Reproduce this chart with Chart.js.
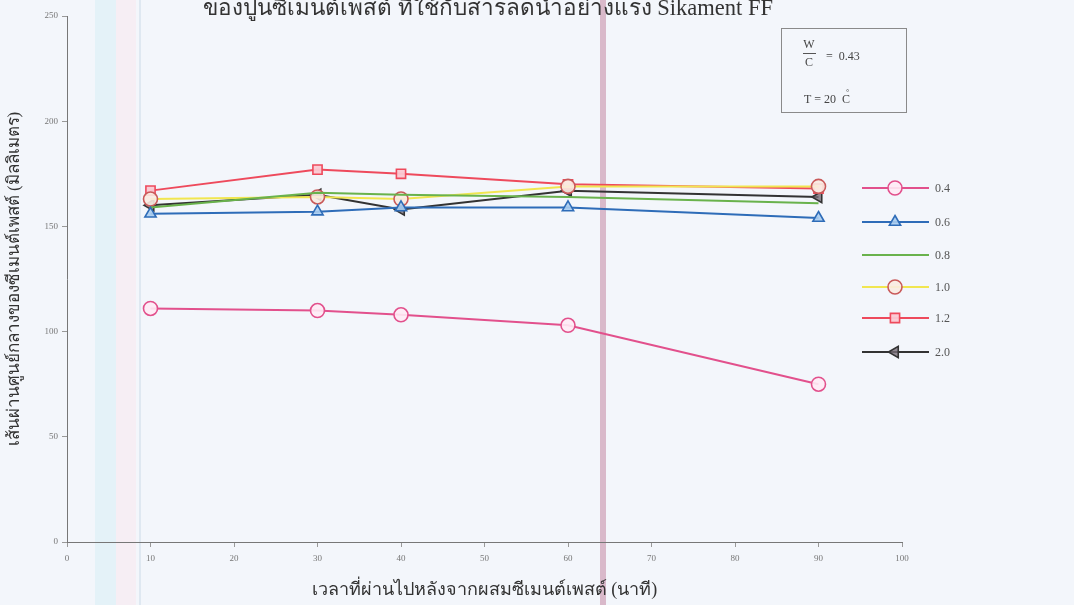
<!DOCTYPE html>
<html>
<head>
<meta charset="utf-8">
<script src="https://cdn.jsdelivr.net/npm/chart.js@4/dist/chart.umd.min.js"></script>
<style>
  html, body { margin: 0; padding: 0; width: 1074px; height: 605px; overflow: hidden; }
  body {
    background:
      linear-gradient(to right,
        transparent 0, transparent 95px,
        #e4f2f8 95px, #e4f2f8 116px,
        #f6eef4 116px, #f6eef4 136px,
        transparent 136px, transparent 139px,
        #dfe8f1 139px, #dfe8f1 141px,
        transparent 141px, transparent 600px,
        #d9b9ca 600px, #d9b9ca 606px,
        transparent 606px),
      #f3f6fb;
  }
  #wrap { position: absolute; left: 0; top: 0; width: 1074px; height: 605px; }
</style>
</head>
<body>
<div id="wrap"><canvas id="c" width="1074" height="605"></canvas></div>
<script>
// elapsed time after mixing (minutes)
const minutes = [10, 30, 40, 60, 90];

// paste spread diameter (mm) per superplasticizer dosage
const s04 = [111, 110, 108, 103, 75];
const s06 = [156, 157, 159, 159, 154];
const s08 = [159, 166, 165, 164, 161];
const s10 = [163, 164, 163, 169, 169];
const s12 = [167, 177, 175, 170, 168];
const s20 = [160, 165, 158, 167, 164];

const seriesLabels = ['0.4', '0.6', '0.8', '1.0', '1.2', '2.0'];
const xTicks = [0, 10, 20, 30, 40, 50, 60, 70, 80, 90, 100];
const yTicks = [0, 50, 100, 150, 200, 250];

const titleText = 'ของปูนซีเมนต์เพสต์ ที่ใช้กับสารลดน้ำอย่างแรง Sikament FF';
const xTitle = 'เวลาที่ผ่านไปหลังจากผสมซีเมนต์เพสต์ (นาที)';
const yTitle = 'เส้นผ่านศูนย์กลางของซีเมนต์เพสต์ (มิลลิเมตร)';

const SERIF = '"Liberation Serif", "DejaVu Serif", serif';

function pts(arr) { return minutes.map((m, i) => ({ x: m, y: arr[i] })); }

const styles = [
  { data: s04, color: '#e2508c', fill: 'rgba(255,235,245,0.9)', point: 'circle', r: 7, rot: 0 },
  { data: s06, color: '#2e6cb8', fill: 'rgba(170,205,240,0.9)', point: 'triangle', r: 6.5, rot: 0 },
  { data: s08, color: '#69b24c', fill: '#69b24c', point: false, r: 0, rot: 0 },
  { data: s10, color: '#f1e650', fill: 'rgba(250,235,225,0.9)', point: 'circle', r: 7, rot: 0, pcolor: '#c95a5a' },
  { data: s12, color: '#ee4a5c', fill: 'rgba(250,200,210,0.95)', point: 'rect', r: 6.5, rot: 0 },
  { data: s20, color: '#333333', fill: 'rgba(120,110,120,0.8)', point: 'triangle', r: 6.5, rot: -90 }
];

const datasets = styles.map((s, i) => ({
  label: seriesLabels[i],
  data: pts(s.data),
  borderColor: s.color,
  backgroundColor: s.fill,
  borderWidth: 2,
  pointStyle: s.point,
  pointRadius: s.r,
  pointRotation: s.rot,
  pointBorderColor: s.pcolor || s.color,
  pointBackgroundColor: s.fill,
  pointBorderWidth: 1.6,
  tension: 0
}));

// title, W/C note box and line-with-marker legend
const decorations = {
  id: 'decorations',
  afterDraw(chart) {
    const ctx = chart.ctx;
    ctx.save();
    ctx.fillStyle = '#333';
    ctx.font = '22.5px ' + SERIF;
    ctx.textAlign = 'center';
    ctx.textBaseline = 'alphabetic';
    ctx.fillText(titleText, 488, 15);

    // note box
    ctx.strokeStyle = '#8a8a8a';
    ctx.lineWidth = 1;
    ctx.strokeRect(781.5, 28.5, 125, 84);
    ctx.fillStyle = '#444';
    ctx.font = '12px ' + SERIF;
    ctx.textAlign = 'center';
    ctx.fillText('W', 809, 48);
    ctx.fillText('C', 809, 66);
    ctx.beginPath();
    ctx.moveTo(803, 53.5); ctx.lineTo(816, 53.5);
    ctx.strokeStyle = '#555';
    ctx.stroke();
    ctx.textAlign = 'left';
    ctx.fillText('=  0.43', 826, 60);
    ctx.fillText('T = 20  C', 804, 103);
    ctx.font = '8px ' + SERIF;
    ctx.fillText('°', 846, 95);

    // legend
    const rows = [188, 222, 255, 287, 318, 352];
    chart.data.datasets.forEach((ds, i) => {
      const y = rows[i];
      ctx.strokeStyle = ds.borderColor;
      ctx.lineWidth = 2;
      ctx.beginPath();
      ctx.moveTo(862, y); ctx.lineTo(929, y);
      ctx.stroke();
      if (ds.pointStyle) {
        ctx.strokeStyle = ds.pointBorderColor;
        ctx.fillStyle = ds.pointBackgroundColor;
        ctx.lineWidth = ds.pointBorderWidth;
        Chart.helpers.drawPoint(ctx, {
          pointStyle: ds.pointStyle, radius: ds.pointRadius,
          rotation: ds.pointRotation, borderWidth: ds.pointBorderWidth
        }, 895, y);
      }
      ctx.fillStyle = '#555';
      ctx.font = '12px ' + SERIF;
      ctx.textAlign = 'left';
      ctx.textBaseline = 'middle';
      ctx.fillText(ds.label, 935, y + 1);
    });
    ctx.restore();
  }
};

new Chart(document.getElementById('c'), {
  type: 'line',
  data: { datasets },
  plugins: [decorations],
  options: {
    responsive: false,
    animation: false,
    layout: { padding: { top: 16, right: 172, left: 0, bottom: 0 } },
    plugins: { legend: { display: false }, tooltip: { enabled: false } },
    scales: {
      x: {
        type: 'linear', min: 0, max: 100,
        afterBuildTicks: s => { s.ticks = xTicks.map(v => ({ value: v })); },
        afterFit: s => { s.height = 63; },
        border: { color: '#777', width: 1 },
        grid: { drawOnChartArea: false, tickLength: 5, color: '#999' },
        ticks: { color: '#777', font: { family: SERIF, size: 9 }, padding: 6, maxRotation: 0 },
        title: { display: true, text: xTitle, color: '#333', font: { family: SERIF, size: 18 }, padding: { top: 3 } }
      },
      y: {
        min: 0, max: 250,
        afterBuildTicks: s => { s.ticks = yTicks.map(v => ({ value: v })); },
        afterFit: s => { s.width = 67; },
        border: { color: '#777', width: 1 },
        grid: { drawOnChartArea: false, tickLength: 5, color: '#999' },
        ticks: { color: '#777', font: { family: SERIF, size: 9 }, padding: 4 },
        title: { display: true, text: yTitle, color: '#333', font: { family: SERIF, size: 17 }, padding: { bottom: 6 } }
      }
    }
  }
});
</script>
</body>
</html>
